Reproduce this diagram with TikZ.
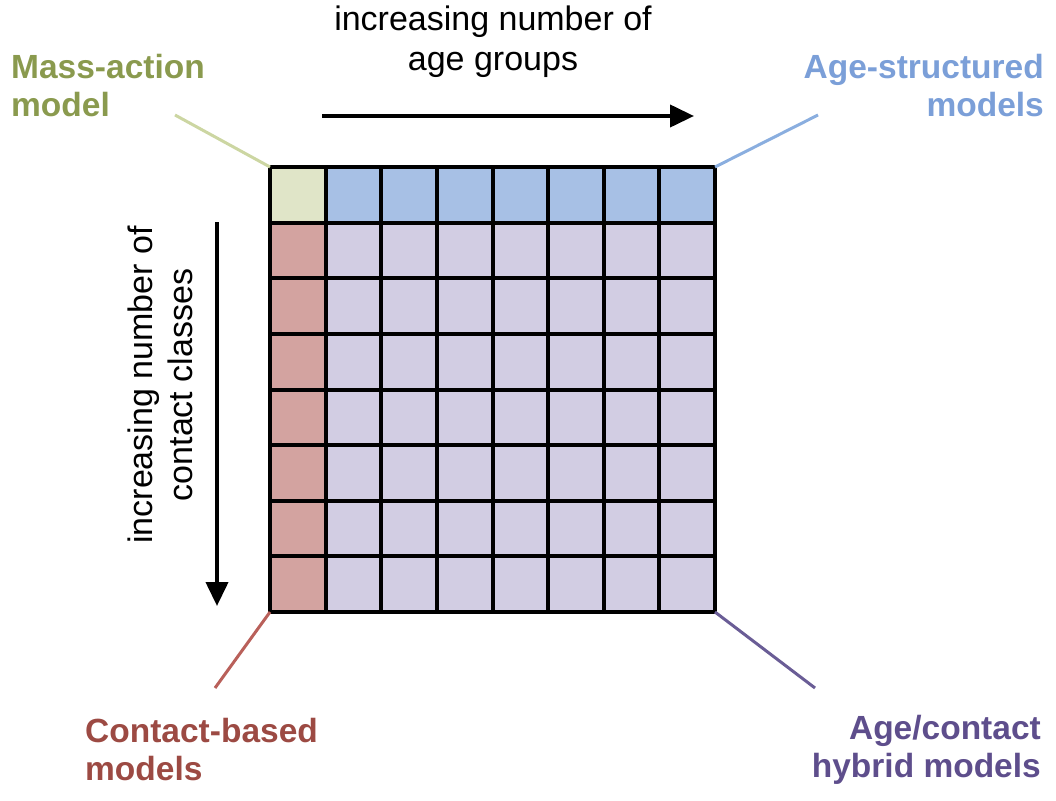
\documentclass[tikz,border=0pt]{standalone}
\usepackage{fontspec}
\setmainfont{Liberation Sans}
\usetikzlibrary{arrows.meta}
\definecolor{cgreen}{HTML}{E0E5C8}
\definecolor{cblue}{HTML}{A7C0E5}
\definecolor{cred}{HTML}{D3A3A0}
\definecolor{clav}{HTML}{D2CDE3}
\definecolor{tgreen}{HTML}{8A9A4E}
\definecolor{tblue}{HTML}{7B9FD8}
\definecolor{tred}{HTML}{9C4A43}
\definecolor{tpur}{HTML}{5E4E8C}
\definecolor{lgreen}{HTML}{CCD6A2}
\definecolor{lblue}{HTML}{8AAEDF}
\definecolor{lred}{HTML}{B9605A}
\definecolor{lpur}{HTML}{6A5D96}
\tikzset{
  cell/.style={draw=black,line width=4pt},
  lab/.style={font=\fontsize{33.5}{38}\selectfont\bfseries,align=left,inner sep=0pt},
  axis/.style={font=\fontsize{34}{40}\selectfont,align=center,inner sep=0pt},
  leader/.style={line width=3pt},
  arr/.style={line width=4pt,-{Triangle[length=24pt,width=22pt]}}
}
\begin{document}
\begin{tikzpicture}[x=1pt,y=-1pt]
\useasboundingbox (0,0) rectangle (1056,800);
\foreach \i in {0,...,7}{
  \foreach \j in {0,...,7}{
    \pgfmathsetmacro{\xa}{270+\i*55.625}
    \pgfmathsetmacro{\ya}{167+\j*55.625}
    \ifnum\i=0 \ifnum\j=0 \def\cc{cgreen}\else\def\cc{cred}\fi
    \else \ifnum\j=0 \def\cc{cblue}\else\def\cc{clav}\fi\fi
    \fill[\cc] (\xa,\ya) rectangle ++(55.625,55.625);
  }
}
\foreach \k in {0,...,8}{
  \draw[line width=4pt] (270+\k*55.625,165) -- (270+\k*55.625,614);
  \draw[line width=4pt] (268,167+\k*55.625) -- (717,167+\k*55.625);
}
\coordinate (tl) at (270,167);
\coordinate (tr) at (715,167);
\coordinate (bl) at (270,612);
\coordinate (br) at (715,612);
\coordinate (gl) at (175,115);
\coordinate (bu) at (818,115);
\coordinate (rl) at (215,688);
\coordinate (pl) at (815,688);
\draw[leader,lgreen] (gl) -- (tl);
\draw[leader,lblue] (tr) -- (bu);
\draw[leader,lred] (bl) -- (rl);
\draw[leader,lpur] (br) -- (pl);
\node[lab,text=tgreen,anchor=west] (ma) at (11,86) {Mass-action\\model};
\node[lab,text=tblue,anchor=east,align=right] (as) at (1044,86) {Age-structured\\models};
\node[lab,text=tred,anchor=west] (cb) at (85,750) {Contact-based\\models};
\node[lab,text=tpur,anchor=east,align=right] (hy) at (1041,750) {Age/contact\\hybrid models};
\node[axis] (ag) at (493,42) {increasing number of\\age groups};
\node[axis,rotate=90] (cc) at (160,385) {increasing number of\\contact classes};
\coordinate (ha) at (322,116);
\coordinate (hb) at (694,116);
\coordinate (va) at (217,222);
\coordinate (vb) at (217,606);
\draw[arr] (ha) -- (hb);
\draw[arr] (va) -- (vb);
\end{tikzpicture}
\end{document}
